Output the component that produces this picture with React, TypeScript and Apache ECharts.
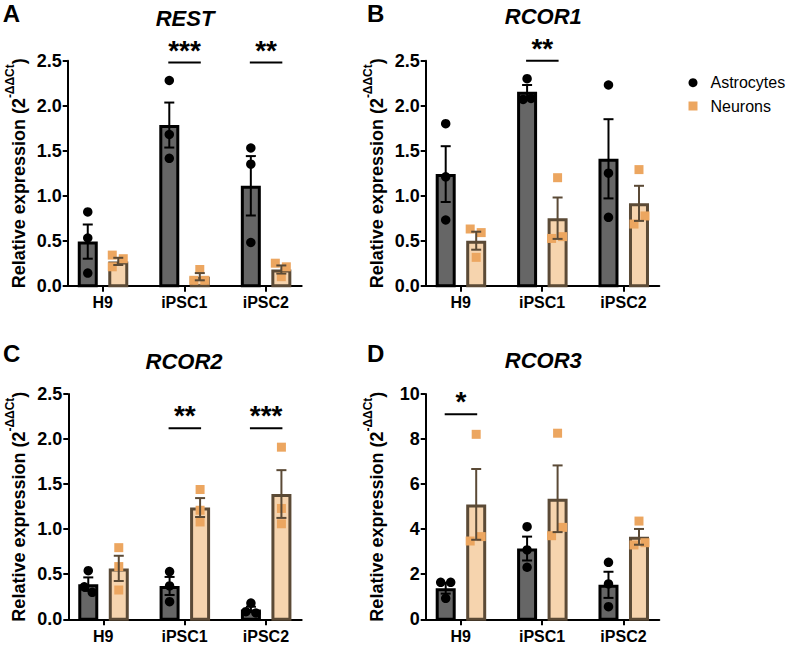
import React, { useEffect, useRef } from 'react';
import * as echarts from 'echarts';

// ---------- data ----------
const categories = ['H9', 'iPSC1', 'iPSC2'];
const seriesNames = ['Astrocytes', 'Neurons'];

// REST
const restAstroMean = [0.49, 1.785, 1.11];
const restAstroSem = [0.19, 0.25, 0.33];
const restNeuronMean = [0.27, 0.1, 0.18];
const restNeuronSem = [0.04, 0.04, 0.045];
const restAstroPoints = [[0.82, 0.53, 0.14], [2.28, 1.68, 1.415], [1.53, 1.35, 0.48]];
const restNeuronPoints = [[0.34, 0.3, 0.21], [0.18, 0.06, 0.06], [0.25, 0.21, 0.1]];
const restSig: [number, number, string][] = [[1, 2.48, '***'], [2, 2.48, '**']];

// RCOR1
const rcor1AstroMean = [1.24, 2.155, 1.41];
const rcor1AstroSem = [0.31, 0.075, 0.44];
const rcor1NeuronMean = [0.5, 0.75, 0.915];
const rcor1NeuronSem = [0.1, 0.23, 0.195];
const rcor1AstroPoints = [[1.8, 1.21, 0.73], [2.3, 2.07, 2.08], [2.23, 1.25, 0.76]];
const rcor1NeuronPoints = [[0.63, 0.59, 0.315], [1.2, 0.525, 0.545], [1.29, 0.685, 0.775]];
const rcor1Sig: [number, number, string][] = [[1, 2.5, '**']];

// RCOR2
const rcor2AstroMean = [0.39, 0.37, 0.11];
const rcor2AstroSem = [0.075, 0.1, 0.03];
const rcor2NeuronMean = [0.565, 1.24, 1.39];
const rcor2NeuronSem = [0.14, 0.105, 0.265];
const rcor2AstroPoints = [[0.54, 0.36, 0.3], [0.53, 0.37, 0.195], [0.18, 0.085, 0.07]];
const rcor2NeuronPoints = [[0.795, 0.585, 0.325], [1.44, 1.21, 1.08], [1.91, 1.23, 1.06]];
const rcor2Sig: [number, number, string][] = [[1, 2.12, '**'], [2, 2.12, '***']];

// RCOR3
const rcor3AstroMean = [1.38, 3.14, 1.53];
const rcor3AstroSem = [0.24, 0.53, 0.58];
const rcor3NeuronMean = [5.1, 5.35, 3.66];
const rcor3NeuronSem = [1.57, 1.48, 0.35];
const rcor3AstroPoints = [[1.64, 1.64, 0.93], [4.11, 3.08, 2.31], [2.53, 1.57, 0.56]];
const rcor3NeuronPoints = [[8.21, 3.475, 3.67], [8.26, 3.71, 4.08], [4.36, 3.3, 3.4]];
const rcor3Sig: [number, number, string][] = [[0, 9.1, '*']];

// ---------- styles / layout ----------
const FONT = '"Liberation Sans", Arial, Helvetica, sans-serif';
const ASTRO_FILL = '#666666';
const ASTRO_EDGE = '#000000';
const NEU_FILL = '#F6D4AE';
const NEU_EDGE = '#5B4A36';
const NEU_PT = '#ECA660';
const BAR_OFF = [-15, 15.5];
const BAR_W = 20;
const BAR_LW = 3;

const panels = [
  {
    title: 'REST', letter: 'A', max: 2.5, interval: 0.5,
    am: restAstroMean, as: restAstroSem, nm: restNeuronMean, ns: restNeuronSem,
    ap: restAstroPoints, np: restNeuronPoints, sig: restSig,
    aj: [[0, 0, 0], [0, 0, 0], [0, 0, 0]], nj: [[-6, 5, -6], [0, -6, 5], [-6, 5, 0]],
    grid: { left: 67.7, top: 60.7, width: 234, height: 225 },
    letterPos: [2.7, 13.7], titlePos: [185, 18],
  },
  {
    title: 'RCOR1', letter: 'B', max: 2.5, interval: 0.5,
    am: rcor1AstroMean, as: rcor1AstroSem, nm: rcor1NeuronMean, ns: rcor1NeuronSem,
    ap: rcor1AstroPoints, np: rcor1NeuronPoints, sig: rcor1Sig,
    aj: [[0, 0, 0], [0, -4, 4], [0, 0, 0]], nj: [[-6, 5, 0], [0, -6, 5], [0, -5, 6]],
    grid: { left: 425.7, top: 60.7, width: 233.6, height: 225 },
    letterPos: [367, 13.7], titlePos: [543.3, 16],
  },
  {
    title: 'RCOR2', letter: 'C', max: 2.5, interval: 0.5,
    am: rcor2AstroMean, as: rcor2AstroSem, nm: rcor2NeuronMean, ns: rcor2NeuronSem,
    ap: rcor2AstroPoints, np: rcor2NeuronPoints, sig: rcor2Sig,
    aj: [[0, -4, 4], [0, 0, 0], [0, -5, 5]], nj: [[0, 0, 0], [0, 0, 0], [0, 0, 0]],
    grid: { left: 68.3, top: 394, width: 233.4, height: 225.3 },
    letterPos: [3, 353.3], titlePos: [184, 361.7],
  },
  {
    title: 'RCOR3', letter: 'D', max: 10, interval: 2,
    am: rcor3AstroMean, as: rcor3AstroSem, nm: rcor3NeuronMean, ns: rcor3NeuronSem,
    ap: rcor3AstroPoints, np: rcor3NeuronPoints, sig: rcor3Sig,
    aj: [[-5, 5, 0], [0, 0, 0], [0, 0, 0]], nj: [[0, -6, 5], [0, -6, 5], [0, -5, 6]],
    grid: { left: 425.7, top: 394, width: 233.6, height: 225.3 },
    letterPos: [367, 353], titlePos: [543.3, 360],
  },
];

function barRender(offset: number, fill: string, edge: string) {
  return (params: any, api: any) => {
    const x = api.value(0);
    const m = api.value(1);
    const top = api.coord([x, m]);
    const base = api.coord([x, 0]);
    const cx = top[0] + offset;
    return {
      type: 'rect',
      shape: {
        x: cx - BAR_W / 2 + BAR_LW / 2,
        y: top[1] + BAR_LW / 2,
        width: BAR_W - BAR_LW,
        height: Math.max(0, base[1] - top[1] - BAR_LW / 2),
      },
      style: { fill, stroke: edge, lineWidth: BAR_LW },
    };
  };
}

function errRender(offset: number, color: string) {
  return (params: any, api: any) => {
    const x = api.value(0);
    const m = api.value(1);
    const s = api.value(2);
    const hi = api.coord([x, m + s]);
    const lo = api.coord([x, Math.max(0, m - s)]);
    const cx = hi[0] + offset;
    const cap = 5;
    const st = { stroke: color, lineWidth: 2 };
    return {
      type: 'group',
      children: [
        { type: 'line', shape: { x1: cx, y1: hi[1], x2: cx, y2: lo[1] }, style: st },
        { type: 'line', shape: { x1: cx - cap, y1: hi[1], x2: cx + cap, y2: hi[1] }, style: st },
        { type: 'line', shape: { x1: cx - cap, y1: lo[1], x2: cx + cap, y2: lo[1] }, style: st },
      ],
    };
  };
}

function sigRender(labels: string[]) {
  return (params: any, api: any) => {
    const p = api.coord([api.value(0), api.value(1)]);
    return {
      type: 'group',
      children: [
        {
          type: 'line',
          shape: { x1: p[0] + BAR_OFF[0] - 1, y1: p[1], x2: p[0] + BAR_OFF[1] + 1, y2: p[1] },
          style: { stroke: '#000', lineWidth: 2 },
        },
        {
          type: 'text',
          x: p[0] + (BAR_OFF[0] + BAR_OFF[1]) / 2,
          y: p[1] - 12.3,
          style: {
            text: labels[params.dataIndex],
            fill: '#000',
            font: `bold 28px ${FONT}`,
            align: 'center',
            verticalAlign: 'middle',
          },
        },
      ],
    };
  };
}

function buildOption() {
  const grid: any[] = [];
  const xAxis: any[] = [];
  const yAxis: any[] = [];
  const series: any[] = [];
  const graphic: any[] = [];

  panels.forEach((p, g) => {
    grid.push({ ...p.grid });
    xAxis.push({
      gridIndex: g,
      type: 'value',
      min: -0.43,
      max: 2.44,
      axisLine: { show: true, onZero: false, lineStyle: { color: '#000', width: 2 } },
      axisTick: { show: true, customValues: [0, 1, 2], length: 6, lineStyle: { color: '#000', width: 2 } },
      axisLabel: {
        customValues: [0, 1, 2],
        formatter: (v: number) => categories[Math.round(v)] ?? '',
        fontSize: 16, fontWeight: 'bold', color: '#000', fontFamily: FONT, margin: 9,
      },
      splitLine: { show: false },
    });
    yAxis.push({
      gridIndex: g,
      type: 'value',
      min: 0,
      max: p.max,
      interval: p.interval,
      axisLine: { show: true, onZero: false, lineStyle: { color: '#000', width: 2 } },
      axisTick: { show: true, length: 5, lineStyle: { color: '#000', width: 2 } },
      axisLabel: {
        fontSize: 18, fontWeight: 'bold', color: '#000', fontFamily: FONT, margin: 6,
        formatter: (v: number) => (p.max > 5 ? String(v) : v.toFixed(1)),
      },
      splitLine: { show: false },
      name: '{b|Relative expression (2}{s|-ΔΔCt}{b|)}',
      nameLocation: 'middle',
      nameRotate: 90,
      nameGap: 40,
      nameTextStyle: {
        rich: {
          b: { fontSize: 18, fontWeight: 'bold', fontFamily: FONT, color: '#000', lineHeight: 24, verticalAlign: 'bottom' },
          s: { fontSize: 12, fontWeight: 'bold', fontFamily: FONT, color: '#000', lineHeight: 14, verticalAlign: 'top' },
        },
      },
    });

    const groups = [
      { mean: p.am, sem: p.as, pts: p.ap, jit: p.aj, fill: ASTRO_FILL, edge: ASTRO_EDGE, pt: '#000', symbol: 'circle', off: BAR_OFF[0], name: seriesNames[0] },
      { mean: p.nm, sem: p.ns, pts: p.np, jit: p.nj, fill: NEU_FILL, edge: NEU_EDGE, pt: NEU_PT, symbol: 'rect', off: BAR_OFF[1], name: seriesNames[1] },
    ];

    groups.forEach((gr) => {
      const barData = categories.map((_, i) => [i, gr.mean[i], gr.sem[i]]);
      series.push({
        type: 'custom',
        name: gr.name + ' bar',
        xAxisIndex: g, yAxisIndex: g,
        z: 2,
        renderItem: barRender(gr.off, gr.fill, gr.edge),
        data: barData,
        silent: true,
      });
      const ptData: any[] = [];
      categories.forEach((_, i) => {
        gr.pts[i].forEach((v, k) => {
          ptData.push({ value: [i, v], symbolOffset: [gr.off + gr.jit[i][k], 0] });
        });
      });
      series.push({
        type: 'scatter',
        name: gr.name,
        xAxisIndex: g, yAxisIndex: g,
        z: 3,
        symbol: gr.symbol,
        symbolSize: gr.symbol === 'circle' ? 9.5 : 9,
        itemStyle: { color: gr.pt, opacity: 1 },
        data: ptData,
        silent: true,
      });
      series.push({
        type: 'custom',
        name: gr.name + ' error',
        xAxisIndex: g, yAxisIndex: g,
        z: 4,
        renderItem: errRender(gr.off, gr.edge),
        data: barData,
        silent: true,
      });
    });

    series.push({
      type: 'custom',
      name: 'sig' + g,
      xAxisIndex: g, yAxisIndex: g,
      z: 5,
      renderItem: sigRender(p.sig.map((s) => s[2])),
      data: p.sig.map((s) => [s[0], s[1]]),
      silent: true,
    });

    graphic.push({
      type: 'text',
      x: p.letterPos[0], y: p.letterPos[1],
      style: { text: p.letter, font: `bold 24px ${FONT}`, fill: '#000', align: 'left', verticalAlign: 'middle' },
    });
    graphic.push({
      type: 'text',
      x: p.titlePos[0], y: p.titlePos[1],
      style: { text: p.title, font: `italic bold 22px ${FONT}`, fill: '#000', align: 'center', verticalAlign: 'middle' },
    });
  });

  return {
    animation: false,
    backgroundColor: '#ffffff',
    grid,
    xAxis,
    yAxis,
    series,
    graphic,
    legend: {
      orient: 'vertical',
      left: 683.5,
      top: 68.7,
      itemWidth: 9,
      itemHeight: 9,
      itemGap: 5.3,
      selectedMode: false,
      textStyle: { fontSize: 16, fontFamily: FONT, color: '#000', lineHeight: 18, padding: [0, 0, 0, 8] },
      data: [
        { name: seriesNames[0], icon: 'circle' },
        { name: seriesNames[1], icon: 'rect' },
      ],
    },
  };
}

export default function App() {
  const ref = useRef<HTMLDivElement>(null);
  useEffect(() => {
    if (!ref.current) return;
    const chart = echarts.init(ref.current, undefined, { renderer: 'svg' });
    chart.setOption(buildOption() as any);
    return () => chart.dispose();
  }, []);
  return (
    <div
      ref={ref}
      style={{ position: 'absolute', left: 0, top: 0, width: 789, height: 649, background: '#fff' }}
    />
  );
}
